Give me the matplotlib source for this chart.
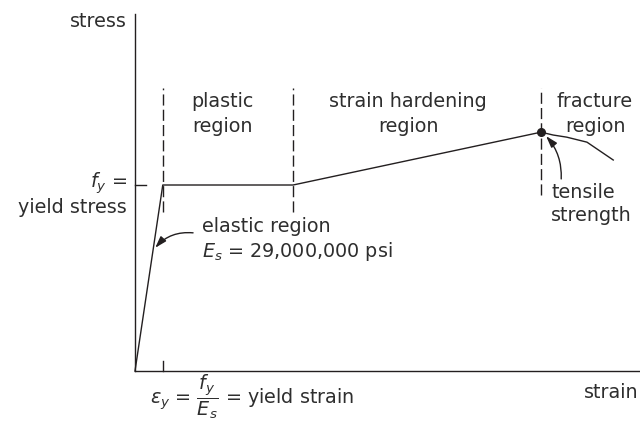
import numpy as np
import matplotlib.pyplot as plt

# stress-strain curve (arbitrary units, strain 0..10, stress 0..10)
strain = [0.0, 0.55, 3.13, 8.04]
stress = [0.0, 5.21, 5.21, 6.69]
tail_strain = [8.04, 8.28, 8.55, 8.95, 9.47]
tail_stress = [6.69, 6.61, 6.55, 6.41, 5.91]
bounds = [0.55, 3.13, 8.04]
fy = 5.21
ult = (8.04, 6.69)

INK = '#231f20'
TXT = '#2e2e2e'

plt.rcParams['font.family'] = ['DejaVu Sans']
plt.rcParams['mathtext.fontset'] = 'dejavusans'

fig = plt.figure(figsize=(6.4, 4.25), dpi=100)
ax = fig.add_axes([135/640, 54/425, 505/640, 357/425])
ax.set_xlim(0, 10)
ax.set_ylim(0, 10)
for s in ['top', 'right']:
    ax.spines[s].set_visible(False)
for s in ['left', 'bottom']:
    ax.spines[s].set_color(INK)
    ax.spines[s].set_linewidth(1.0)
ax.set_xticks([])
ax.set_yticks([])

# curve
ax.plot(strain, stress, color=INK, lw=1.0, clip_on=False)
ax.plot(tail_strain, tail_stress, color=INK, lw=1.0, clip_on=False)
ax.plot([ult[0]], [ult[1]], 'o', color=INK, ms=5.5, clip_on=False)

# region boundaries
dash = (0, (8, 3))
ax.plot([bounds[0]] * 2, [4.45, 7.93], color=INK, lw=1.0, ls=dash)
ax.plot([bounds[1]] * 2, [4.45, 7.93], color=INK, lw=1.0, ls=dash)
ax.plot([bounds[2]] * 2, [4.93, 7.93], color=INK, lw=1.0, ls=dash)

# small ticks on axes
ax.plot([0, 0.22], [fy, fy], color=INK, lw=1.0, clip_on=False)
ax.plot([bounds[0]] * 2, [0, 0.28], color=INK, lw=1.0, clip_on=False)

fs = 13.8
ax.text(-0.16, 9.8, 'stress', ha='right', va='center', fontsize=fs, color=TXT, clip_on=False)
ax.text(9.98, -0.59, 'strain', ha='right', va='center', fontsize=fs, color=TXT, clip_on=False)
ax.text(1.74, 7.2, 'plastic\nregion', ha='center', va='center', fontsize=fs,
        color=TXT, linespacing=1.4)
ax.text(5.41, 7.2, 'strain hardening\nregion', ha='center', va='center', fontsize=fs,
        color=TXT, linespacing=1.4)
ax.text(9.11, 7.2, 'fracture\nregion', ha='center', va='center', fontsize=fs,
        color=TXT, linespacing=1.4, clip_on=False)
ax.text(-0.16, 4.96, '$f_y$ =\nyield stress', ha='right', va='center', fontsize=fs,
        color=TXT, multialignment='right', linespacing=1.15, clip_on=False)
ax.text(1.33, 3.67, 'elastic region\n$E_s$ = 29,000,000 psi', ha='left', va='center',
        fontsize=fs, color=TXT, linespacing=1.25)
ax.text(8.24, 4.68, 'tensile\nstrength', ha='left', va='center', fontsize=fs,
        color=TXT, linespacing=1.25)
ax.text(0.30, -0.73, r'$\varepsilon_y$ = $\dfrac{f_y}{E_s}$ = yield strain', ha='left',
        va='center', fontsize=fs, color=TXT, clip_on=False)

# arrows
ax.annotate('', xy=(0.40, 3.45), xytext=(1.15, 3.87),
            arrowprops=dict(arrowstyle='-|>,head_length=0.7,head_width=0.22', color=INK,
                            lw=1.0, connectionstyle='arc3,rad=0.25', shrinkA=0, shrinkB=0))
ax.annotate('', xy=(8.14, 6.58), xytext=(8.44, 5.38),
            arrowprops=dict(arrowstyle='-|>,head_length=0.7,head_width=0.22', color=INK,
                            lw=1.0, connectionstyle='arc3,rad=0.2', shrinkA=0, shrinkB=0))

fig.savefig('out.png', dpi=100)
